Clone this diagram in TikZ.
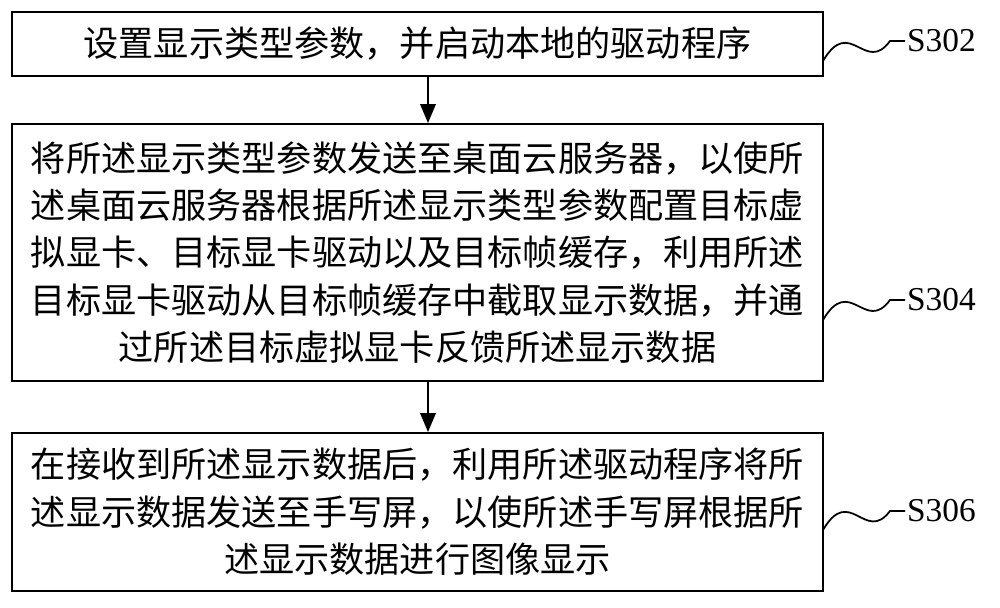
\documentclass[tikz,border=0pt]{standalone}
\usepackage{fontspec}
\setmainfont{Liberation Serif}
\newfontfamily\cjk{Noto Sans CJK SC}
\usetikzlibrary{positioning, arrows}
\tikzstyle{stepbox} = [rectangle, draw=black, line width=1.2pt, minimum width=16.22cm, text width=16.1cm, align=center, inner sep=0pt, font=\cjk\fontsize{20}{27}\selectfont]
\tikzstyle{arrow} = [line width=1.5pt,->,>=triangle 45]
\tikzstyle{tag} = [font=\fontsize{19}{22}\selectfont, anchor=west, inner sep=1pt]
\begin{document}
\begin{tikzpicture}
	\useasboundingbox (0,0) rectangle (20,-12.14);

	\node (s1) [stepbox, minimum height=1.28cm] at (8.35,-0.88) {设置显示类型参数，并启动本地的驱动程序};
	\node (s2) [stepbox, minimum height=5.14cm] at (8.35,-5.05) {将所述显示类型参数发送至桌面云服务器，以使所\\述桌面云服务器根据所述显示类型参数配置目标虚\\拟显卡、目标显卡驱动以及目标帧缓存，利用所述\\目标显卡驱动从目标帧缓存中截取显示数据，并通\\过所述目标虚拟显卡反馈所述显示数据};
	\node (s3) [stepbox, minimum height=3.16cm] at (8.35,-10.24) {在接收到所述显示数据后，利用所述驱动程序将所\\述显示数据发送至手写屏，以使所述手写屏根据所\\述显示数据进行图像显示};

	\draw [arrow] (s1.south) ++(0.21,0) coordinate (a1) -- (a1 |- s2.north);
	\draw [arrow] (s2.south) ++(0.21,0) coordinate (a2) -- (a2 |- s3.north);

	\node (t1) [tag] at (18.1,-0.82) {S302};
	\node (t2) [tag] at (18.1,-6.0) {S304};
	\node (t3) [tag] at (18.1,-10.22) {S306};

	\draw [line width=1pt] (16.46,-1.22) .. controls (17.0,-0.3) and (17.3,-1.5) .. (17.8,-0.82) -- (t1.west);
	\draw [line width=1pt] (16.46,-6.4) .. controls (17.0,-5.48) and (17.3,-6.68) .. (17.8,-6.0) -- (t2.west);
	\draw [line width=1pt] (16.46,-10.6) .. controls (17.0,-9.68) and (17.3,-10.88) .. (17.8,-10.22) -- (t3.west);
\end{tikzpicture}
\end{document}
